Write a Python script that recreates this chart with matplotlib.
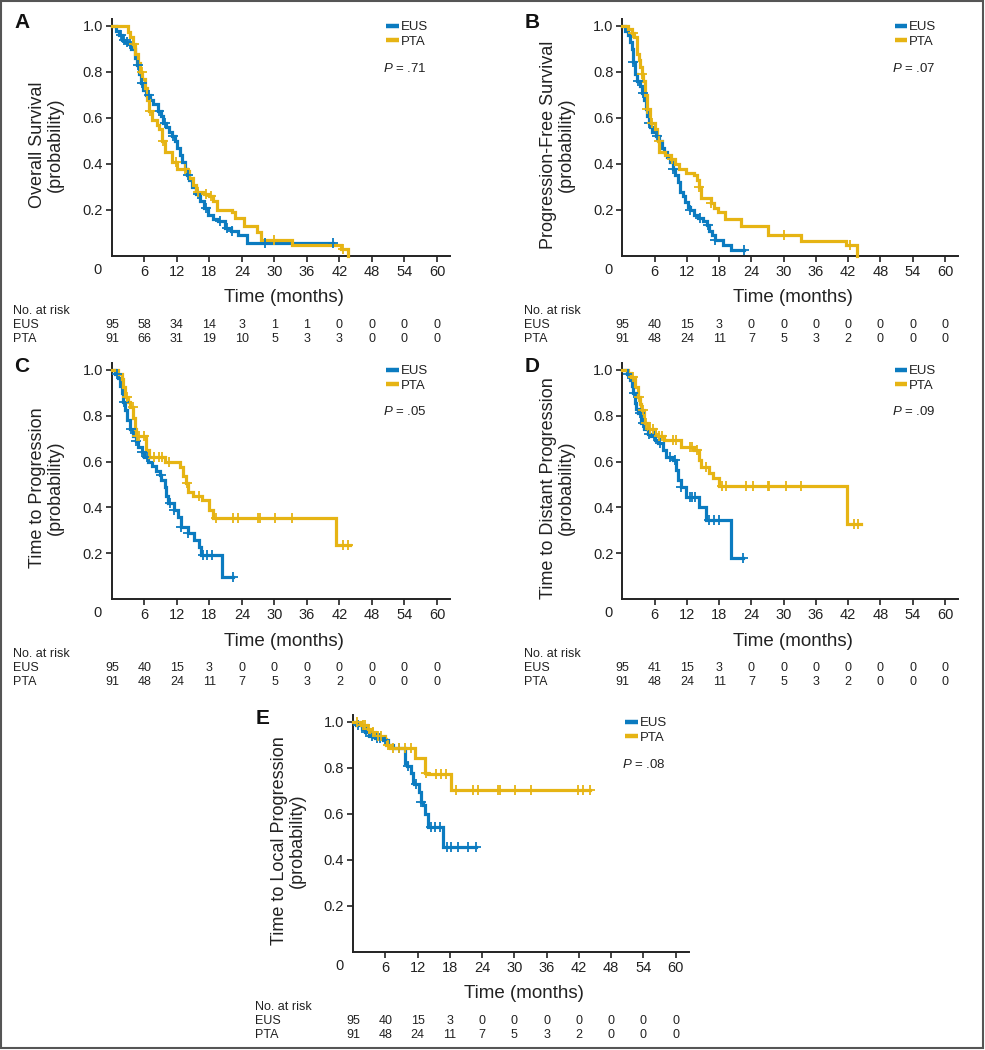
import matplotlib
matplotlib.use("Agg")
import matplotlib.pyplot as plt
from matplotlib.patches import Rectangle
from matplotlib.lines import Line2D
import numpy as np

plt.rcParams['font.family'] = ['Liberation Sans', 'DejaVu Sans']
plt.rcParams['mathtext.fontset'] = 'custom'
plt.rcParams['mathtext.it'] = 'Liberation Sans:italic'
plt.rcParams['mathtext.rm'] = 'Liberation Sans'

BLUE = '#0b7bc0'
GOLD = '#e6b414'

risk_times = [0, 6, 12, 18, 24, 30, 36, 42, 48, 54, 60]

# ---- A: overall survival
os_eus_t = [0, 0.8, 1.3, 1.8, 2.4, 3.0, 3.6, 4.2, 4.6, 5.0, 5.4, 5.8, 6.3, 7.0, 7.6, 8.5, 9.0, 9.4, 10.0,
            10.6, 11.0, 11.6, 12.0, 12.5, 12.9, 13.4, 13.8, 14.3, 14.8, 15.5, 16.2, 17.0, 17.7, 18.6,
            19.6, 20.8, 22.0, 23.2, 24.9]
os_eus_s = [1.0, 0.98, 0.96, 0.94, 0.93, 0.92, 0.90, 0.86, 0.83, 0.79, 0.75, 0.72, 0.70, 0.68, 0.66, 0.63,
            0.61, 0.58, 0.56, 0.54, 0.52, 0.50, 0.47, 0.44, 0.41, 0.38, 0.35, 0.33, 0.30, 0.27, 0.24, 0.21,
            0.18, 0.16, 0.15, 0.12, 0.11, 0.09, 0.057]
os_eus_end = 40.8
os_eus_cens = [1.6, 2.2, 2.7, 3.3, 4.8, 5.6, 6.8, 8.6, 9.8, 11.3, 14.0, 15.9, 17.3, 20.0, 21.3, 22.2, 28.3, 40.8]

os_pta_t = [0, 3.0, 3.4, 3.8, 4.3, 4.8, 5.2, 5.6, 6.1, 6.5, 6.9, 7.4, 8.3, 8.7, 9.2, 9.8, 11.0, 12.0, 13.8,
            14.2, 15.0, 15.6, 17.0, 18.0, 18.6, 19.4, 22.2, 22.8, 24.3, 26.8, 27.5, 33.2, 42.3, 43.5]
os_pta_s = [1.0, 0.975, 0.95, 0.92, 0.88, 0.84, 0.80, 0.77, 0.73, 0.68, 0.63, 0.59, 0.57, 0.55, 0.50, 0.45,
            0.41, 0.38, 0.37, 0.34, 0.31, 0.28, 0.27, 0.26, 0.24, 0.20, 0.19, 0.165, 0.13, 0.105, 0.07,
            0.048, 0.03, 0.0]
os_pta_end = 43.5
os_pta_cens = [4.0, 5.5, 7.0, 9.5, 11.8, 13.5, 15.8, 17.3, 18.2, 30.0, 42.6]

os_eus_risk = [95, 58, 34, 14, 3, 1, 1, 0, 0, 0, 0]
os_pta_risk = [91, 66, 31, 19, 10, 5, 3, 3, 0, 0, 0]

# ---- B: progression-free survival
pfs_eus_t = [0, 0.5, 1.1, 1.5, 1.7, 2.0, 2.3, 2.8, 3.3, 3.6, 4.0, 4.3, 4.6, 4.9, 5.2, 5.5, 6.2, 6.8, 7.3,
             7.7, 8.3, 8.9, 9.4, 9.8, 10.3, 10.7, 11.2, 11.7, 12.2, 12.6, 13.3, 14.1, 14.9, 15.7, 16.2,
             16.6, 17.2, 18.7, 20.2]
pfs_eus_s = [1.0, 0.98, 0.96, 0.93, 0.90, 0.845, 0.79, 0.76, 0.74, 0.71, 0.68, 0.64, 0.61, 0.58, 0.56,
             0.54, 0.52, 0.50, 0.47, 0.45, 0.43, 0.41, 0.38, 0.35, 0.32, 0.28, 0.26, 0.235, 0.215, 0.20,
             0.18, 0.165, 0.15, 0.135, 0.11, 0.09, 0.07, 0.048, 0.026]
pfs_eus_end = 22.6
pfs_eus_cens = [2.0, 2.9, 3.8, 5.0, 6.4, 9.5, 12.6, 14.4, 16.0, 17.2, 22.6]

pfs_pta_t = [0, 1.0, 1.7, 2.1, 2.7, 3.0, 3.3, 3.6, 3.9, 4.2, 4.5, 5.2, 6.0, 6.4, 6.7, 6.9, 8.0, 9.1, 9.8,
             10.6, 11.9, 13.4, 13.8, 14.2, 14.6, 16.5, 17.0, 17.7, 19.0, 22.1, 27.0, 33.3, 41.5, 43.6]
pfs_pta_s = [1.0, 0.985, 0.97, 0.95, 0.88, 0.85, 0.82, 0.79, 0.76, 0.70, 0.64, 0.58, 0.55, 0.52, 0.50,
             0.45, 0.44, 0.42, 0.40, 0.38, 0.36, 0.35, 0.33, 0.30, 0.25, 0.23, 0.21, 0.19, 0.16, 0.13,
             0.09, 0.065, 0.047, 0.0]
pfs_pta_end = 43.6
pfs_pta_cens = [2.0, 3.7, 4.6, 5.5, 6.8, 9.3, 14.3, 16.5, 30.0, 42.3]

pfs_eus_risk = [95, 40, 15, 3, 0, 0, 0, 0, 0, 0, 0]
pfs_pta_risk = [91, 48, 24, 11, 7, 5, 3, 2, 0, 0, 0]

# ---- C: time to progression
ttp_eus_t = [0, 0.6, 1.2, 1.5, 1.8, 2.1, 2.4, 2.7, 3.3, 3.9, 4.4, 4.8, 5.5, 6.0, 6.6, 7.3, 8.2, 8.8, 9.1,
             9.7, 10.0, 10.3, 11.5, 12.1, 12.8, 14.0, 15.2, 16.1, 16.4, 20.4]
ttp_eus_s = [1.0, 0.98, 0.965, 0.93, 0.90, 0.86, 0.825, 0.78, 0.74, 0.71, 0.69, 0.665, 0.64, 0.62, 0.60,
             0.58, 0.56, 0.54, 0.52, 0.49, 0.45, 0.42, 0.39, 0.36, 0.315, 0.29, 0.258, 0.227, 0.19, 0.096]
ttp_eus_end = 22.4
ttp_eus_cens = [1.0, 2.2, 3.5, 4.5, 5.5, 6.5, 9.0, 10.7, 11.5, 12.8, 14.0, 16.8, 17.5, 18.5, 22.4]

ttp_pta_t = [0, 1.2, 1.8, 2.1, 2.4, 3.0, 3.3, 3.9, 4.2, 4.5, 6.3, 6.9, 9.8, 12.5, 13.2, 13.6, 14.0, 15.0,
             16.7, 18.0, 18.6, 41.3]
ttp_pta_s = [1.0, 0.98, 0.96, 0.925, 0.88, 0.86, 0.84, 0.79, 0.74, 0.71, 0.65, 0.62, 0.60, 0.575, 0.535,
             0.505, 0.465, 0.45, 0.43, 0.39, 0.355, 0.237]
ttp_pta_end = 43.9
ttp_pta_cens = [2.8, 3.8, 4.6, 5.0, 6.0, 7.8, 8.6, 9.3, 10.5, 13.8, 16.0, 19.2, 22.4, 23.3, 27.0, 27.3,
                30.1, 33.2, 42.7, 43.6]

ttp_eus_risk = [95, 40, 15, 3, 0, 0, 0, 0, 0, 0, 0]
ttp_pta_risk = [91, 48, 24, 11, 7, 5, 3, 2, 0, 0, 0]

# ---- D: time to distant progression
tdp_eus_t = [0, 0.8, 1.4, 1.7, 2.0, 2.3, 2.6, 2.9, 3.5, 4.1, 4.7, 5.4, 6.0, 6.6, 7.5, 8.1, 9.4, 10.0,
             10.3, 10.9, 11.8, 14.3, 15.6, 20.2]
tdp_eus_s = [1.0, 0.98, 0.956, 0.93, 0.90, 0.855, 0.83, 0.81, 0.77, 0.74, 0.72, 0.71, 0.695, 0.68, 0.65,
             0.62, 0.607, 0.563, 0.52, 0.49, 0.445, 0.40, 0.345, 0.18]
tdp_eus_end = 22.5
tdp_eus_cens = [1.0, 2.2, 3.2, 3.8, 5.0, 5.8, 7.0, 8.8, 9.7, 10.9, 12.5, 13.0, 13.5, 16.2, 17.0, 18.0,
                22.5]

tdp_pta_t = [0, 1.0, 1.6, 2.3, 2.9, 3.2, 3.5, 4.1, 4.8, 6.0, 6.6, 7.8, 10.9, 13.4, 14.3, 14.6, 16.2,
             16.8, 18.0, 41.7]
tdp_pta_s = [1.0, 0.985, 0.97, 0.925, 0.88, 0.85, 0.825, 0.77, 0.74, 0.72, 0.71, 0.695, 0.665, 0.65,
             0.607, 0.577, 0.55, 0.528, 0.493, 0.327]
tdp_pta_end = 44.3
tdp_pta_cens = [2.0, 3.0, 3.8, 4.3, 5.2, 5.6, 6.8, 7.3, 9.5, 10.0, 12.5, 13.0, 13.8, 15.5, 18.6, 19.2,
                23.0, 24.3, 27.0, 27.3, 30.5, 33.3, 43.0, 43.8]

tdp_eus_risk = [95, 41, 15, 3, 0, 0, 0, 0, 0, 0, 0]
tdp_pta_risk = [91, 48, 24, 11, 7, 5, 3, 2, 0, 0, 0]

# ---- E: time to local progression
tlp_eus_t = [0, 0.6, 1.6, 2.2, 3.0, 4.1, 5.5, 6.6, 7.4, 9.7, 10.0, 10.8, 11.1, 11.4, 12.3, 12.6, 13.0,
             13.3, 13.9, 16.7]
tlp_eus_s = [1.0, 0.985, 0.97, 0.955, 0.94, 0.93, 0.92, 0.90, 0.885, 0.82, 0.81, 0.78, 0.74, 0.73, 0.695,
             0.65, 0.64, 0.60, 0.545, 0.455]
tlp_eus_end = 22.8
tlp_eus_cens = [1.0, 2.5, 3.5, 4.5, 5.0, 6.0, 8.5, 10.2, 11.7, 12.6, 14.5, 15.3, 16.2, 17.5, 18.3, 19.5,
                21.3, 22.8]

tlp_pta_t = [0, 1.5, 2.6, 3.4, 4.1, 5.9, 6.2, 6.8, 11.5, 13.4, 14.0, 18.3]
tlp_pta_s = [1.0, 0.985, 0.97, 0.957, 0.94, 0.927, 0.90, 0.885, 0.845, 0.78, 0.775, 0.705]
tlp_pta_end = 44.1
tlp_pta_cens = [0.8, 1.8, 2.3, 3.0, 3.8, 4.6, 5.2, 6.5, 7.5, 8.5, 9.7, 10.8, 13.6, 15.5, 16.3, 17.3,
                19.2, 22.4, 23.3, 27.0, 27.3, 30.1, 33.2, 41.8, 42.8, 44.1]

tlp_eus_risk = [95, 40, 15, 3, 0, 0, 0, 0, 0, 0, 0]
tlp_pta_risk = [91, 48, 24, 11, 7, 5, 3, 2, 0, 0, 0]

W, H = 985, 1050
fig = plt.figure(figsize=(W / 100, H / 100), dpi=100)


def px_axes(left, top, width, height):
    return fig.add_axes([left / W, 1 - (top + height) / H, width / W, height / H])


def km(ax, t, s, end, cens, color):
    tt = list(t) + [end]
    ss = list(s) + [s[-1]]
    ax.step(tt, ss, where='post', color=color, lw=2.3, solid_joinstyle='miter', clip_on=False, zorder=3)
    idx = np.searchsorted(t, cens, side='right') - 1
    cy = np.array(s)[idx]
    ax.plot(cens, cy, ls='none', marker='+', ms=7, mew=1.3, color=color, clip_on=False, zorder=4)


def panel(ax, letter, ylabel, p_text, eus, pta, eus_risk, pta_risk, table_x):
    km(ax, *eus, BLUE)
    km(ax, *pta, GOLD)
    ax.set_xlim(0, 62.5)
    ax.set_ylim(0, 1.03)
    ax.set_xticks(risk_times[1:])
    ax.set_yticks([0.2, 0.4, 0.6, 0.8, 1.0])
    ax.set_yticklabels(['0.2', '0.4', '0.6', '0.8', '1.0'])
    for side in ['top', 'right']:
        ax.spines[side].set_visible(False)
    for side in ['left', 'bottom']:
        ax.spines[side].set_linewidth(1.4)
        ax.spines[side].set_color('#222222')
    ax.tick_params(direction='out', length=4, width=1.2, color='#222222', labelsize=10.5,
                   pad=2.5, labelcolor='#222222')
    ax.annotate('0', xy=(0, 0), xycoords='axes fraction', xytext=(-14, -14),
                textcoords='offset pixels', ha='center', va='center', fontsize=10.5, color='#222222')
    ax.text(-0.193, 0.47, ylabel, transform=ax.transAxes, rotation=90, ha='center', va='center',
            multialignment='center', fontsize=13, linespacing=1.05, color='#222222')
    ax.annotate('Time (months)', xy=(0.509, 0), xycoords='axes fraction', xytext=(0, -42),
                textcoords='offset pixels', ha='center', va='center', fontsize=13.5, color='#222222')
    leg = ax.legend(handles=[Line2D([], [], color=BLUE, lw=3.2, solid_capstyle='butt'),
                             Line2D([], [], color=GOLD, lw=3.2, solid_capstyle='butt')],
                    labels=['EUS', 'PTA'], loc='upper left', bbox_to_anchor=(0.805, 1.0),
                    frameon=False, fontsize=9.5, handlelength=0.95, handletextpad=0.12,
                    labelspacing=0.2, borderpad=0.15, borderaxespad=0)
    for txt in leg.get_texts():
        txt.set_color('#222222')
    ax.annotate(p_text, xy=(0.802, 1.0), xycoords='axes fraction', xytext=(0, -49),
                textcoords='offset pixels', ha='left', va='center', fontsize=9.5, color='#222222')
    ax.annotate(letter, xy=(0, 1.0), xycoords='axes fraction', xytext=(-90, -4),
                textcoords='offset pixels', ha='center', va='center', fontsize=15,
                fontweight='bold', color='#111111')
    # risk table
    ax.annotate('No. at risk', xy=(0, 0), xycoords='axes fraction', xytext=(table_x, -55),
                textcoords='offset pixels', ha='left', va='center', fontsize=9, color='#222222')
    for name, vals, dy in [('EUS', eus_risk, -69), ('PTA', pta_risk, -83)]:
        ax.annotate(name, xy=(0, 0), xycoords='axes fraction', xytext=(table_x, dy),
                    textcoords='offset pixels', ha='left', va='center', fontsize=9, color='#222222')
        for tm, v in zip(risk_times, vals):
            ax.annotate(str(v), xy=(tm, 0), xycoords=('data', 'axes fraction'), xytext=(0, dy),
                        textcoords='offset pixels', ha='center', va='center', fontsize=9,
                        color='#222222')


axA = px_axes(112, 19, 338.5, 237)
panel(axA, 'A', 'Overall Survival\n(probability)', r'$\it{P}$ = .71',
      (os_eus_t, os_eus_s, os_eus_end, os_eus_cens), (os_pta_t, os_pta_s, os_pta_end, os_pta_cens),
      os_eus_risk, os_pta_risk, -99)

axB = px_axes(622.4, 19, 336, 237)
panel(axB, 'B', 'Progression-Free Survival\n(probability)', r'$\it{P}$ = .07',
      (pfs_eus_t, pfs_eus_s, pfs_eus_end, pfs_eus_cens), (pfs_pta_t, pfs_pta_s, pfs_pta_end, pfs_pta_cens),
      pfs_eus_risk, pfs_pta_risk, -98)

axC = px_axes(112, 363, 338.5, 236)
panel(axC, 'C', 'Time to Progression\n(probability)', r'$\it{P}$ = .05',
      (ttp_eus_t, ttp_eus_s, ttp_eus_end, ttp_eus_cens), (ttp_pta_t, ttp_pta_s, ttp_pta_end, ttp_pta_cens),
      ttp_eus_risk, ttp_pta_risk, -99)

axD = px_axes(622.4, 363, 336, 236)
panel(axD, 'D', 'Time to Distant Progression\n(probability)', r'$\it{P}$ = .09',
      (tdp_eus_t, tdp_eus_s, tdp_eus_end, tdp_eus_cens), (tdp_pta_t, tdp_pta_s, tdp_pta_end, tdp_pta_cens),
      tdp_eus_risk, tdp_pta_risk, -98)

axE = px_axes(353, 715, 336, 237)
panel(axE, 'E', 'Time to Local Progression\n(probability)', r'$\it{P}$ = .08',
      (tlp_eus_t, tlp_eus_s, tlp_eus_end, tlp_eus_cens), (tlp_pta_t, tlp_pta_s, tlp_pta_end, tlp_pta_cens),
      tlp_eus_risk, tlp_pta_risk, -98)

# outer frame
fig.patches.append(Rectangle((0.5 / W, 2.5 / H), 982.5 / W, 1046.5 / H, transform=fig.transFigure,
                             fill=False, edgecolor='#555555', lw=1.5))

fig.savefig('out.png', dpi=100)
